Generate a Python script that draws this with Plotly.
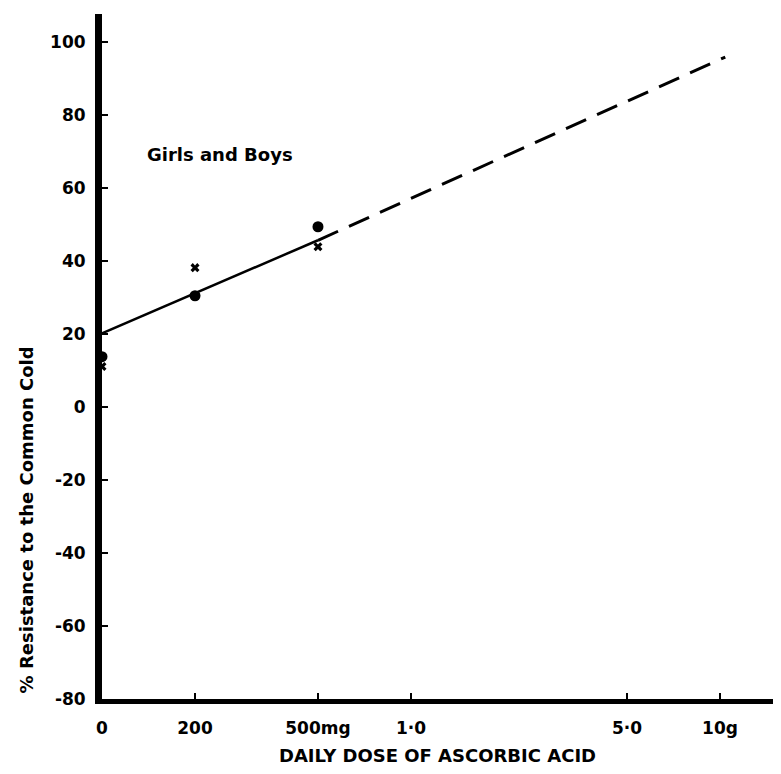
import plotly.graph_objects as go

# ---- data ----
ZERO_DOSE_POS = 100  # the axis origin where zero dose is plotted (mg, log axis)
dose_mg = [0, 200, 500]
girls_boys_dot = [13.8, 30.5, 49.4]
girls_boys_cross = [11.1, 38.2, 43.9]

fit_solid_dose = [0, 500]
fit_solid_val = [20.2, 45.7]
fit_dash_dose = [500, 10400]
fit_dash_val = [45.7, 95.9]

x_tick_doses = [0, 200, 500, 1000, 5000, 10000]
x_tick_labels = ["0", "200", "500mg", "1·0", "5·0", "10g"]
y_tick_vals = [-80, -60, -40, -20, 0, 20, 40, 60, 80, 100]
y_tick_labels = ["-80", "-60", "-40", "-20", "0", "20", "40", "60", "80", "100"]


def pos(d):
    return [ZERO_DOSE_POS if v == 0 else v for v in d]


FONT = "DejaVu Sans"
fig = go.Figure()

fig.add_trace(go.Scatter(x=pos(fit_solid_dose), y=fit_solid_val, mode="lines",
                         line=dict(color="black", width=2.5), cliponaxis=False,
                         showlegend=False, hoverinfo="skip"))
fig.add_trace(go.Scatter(x=pos(fit_dash_dose), y=fit_dash_val, mode="lines",
                         line=dict(color="black", width=3, dash="22px,12px"),
                         cliponaxis=False, showlegend=False, hoverinfo="skip"))
fig.add_trace(go.Scatter(x=pos(dose_mg), y=girls_boys_dot, mode="markers",
                         marker=dict(symbol="circle", size=11, color="black"),
                         cliponaxis=False, showlegend=False))
fig.add_trace(go.Scatter(x=pos(dose_mg), y=girls_boys_cross, mode="markers",
                         marker=dict(symbol="x", size=8, color="black",
                                     line=dict(width=0)),
                         cliponaxis=False, showlegend=False))

fig.add_annotation(text="<b>Girls and Boys</b>", xref="paper", yref="y",
                   x=0.064, y=69.1, xanchor="left", yanchor="middle",
                   showarrow=False, font=dict(family=FONT, size=18, color="black"))

fig.add_annotation(text="<b>% Resistance to the Common Cold</b>", xref="paper",
                   yref="paper", x=-0.112, y=0.262, xanchor="center",
                   yanchor="middle", textangle=-90, showarrow=False,
                   font=dict(family=FONT, size=18, color="black"))

fig.update_layout(
    width=765, height=758,
    margin=dict(l=94, r=0, t=6, b=64),
    paper_bgcolor="white", plot_bgcolor="white",
    font=dict(family=FONT, size=17, color="black"),
    xaxis=dict(type="log", range=[2.0, 4.1715],
               tickmode="array", tickvals=pos(x_tick_doses),
               ticktext=["<b>%s</b>" % t for t in x_tick_labels],
               ticks="inside", ticklen=6, tickwidth=2, tickcolor="black",
               showline=True, linecolor="black", linewidth=5,
               showgrid=False, zeroline=False, layer="below traces",
               ticklabelstandoff=10,
               tickfont=dict(family=FONT, size=17, color="black"),
               title=dict(text="<b>DAILY DOSE OF ASCORBIC ACID</b>",
                          font=dict(family=FONT, size=18, color="black"),
                          standoff=15)),
    yaxis=dict(range=[-80, 107.7],
               tickmode="array", tickvals=y_tick_vals,
               ticktext=["<b>%s</b>" % t for t in y_tick_labels],
               ticks="inside", ticklen=6, tickwidth=2, tickcolor="black",
               showline=True, linecolor="black", linewidth=7,
               showgrid=False, zeroline=False, layer="below traces",
               ticklabelstandoff=6,
               tickfont=dict(family=FONT, size=17, color="black")),
)

fig.write_html("out.html")
